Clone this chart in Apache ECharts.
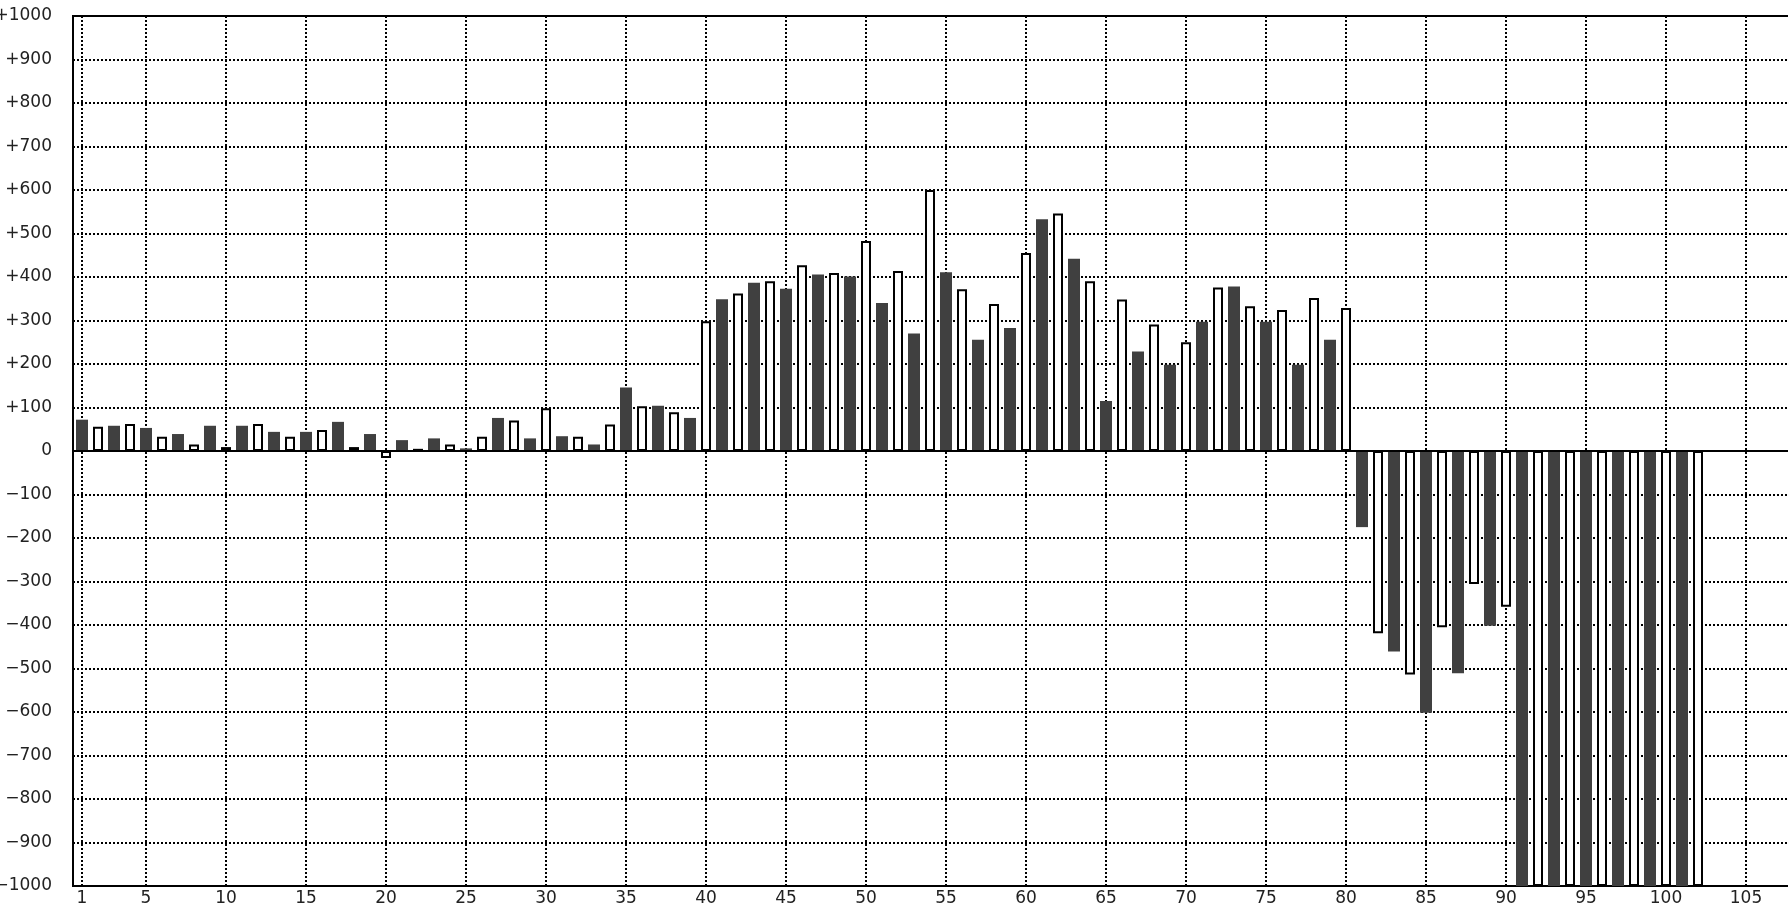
<!DOCTYPE html>
<html>
<head>
<meta charset="utf-8">
<script src="https://cdn.jsdelivr.net/npm/echarts@6/dist/echarts.min.js"></script>
<style>
  html, body { margin: 0; padding: 0; background: #fff; }
  #chart { width: 1788px; height: 906px; }
</style>
</head>
<body>
<div id="chart"></div>
<script>
// Bar values for positions 1..102 (odd positions drawn dark, even positions drawn white)
const values = [
  72, 56, 58, 62, 53, 33, 39, 15, 58, 9,
  58, 62, 44, 33, 44, 48, 67, 9, 39, -16,
  25, 5, 29, 15, 6, 33, 76, 70, 29, 98,
  34, 33, 15, 61, 146, 103, 104, 89, 76, 298,
  349, 362, 387, 390, 373, 427, 406, 409, 401, 483,
  340, 414, 270, 600, 411, 372, 256, 338, 283, 455,
  533, 546, 442, 390, 115, 348, 229, 291, 198, 250,
  297, 376, 378, 333, 297, 324, 198, 352, 256, 329,
  -175, -419, -461, -514, -602, -405, -511, -306, -402, -358,
  -1000, -1000, -1000, -1000, -1000, -1000, -1000, -1000, -1000, -1000,
  -1000, -1000
];
// X-axis tick labels
const xTicks = [1, 5, 10, 15, 20, 25, 30, 35, 40, 45, 50, 55, 60, 65, 70, 75, 80, 85, 90, 95, 100, 105];
// Y-axis range
const yMin = -1000, yMax = 1000, yStep = 100;

const darkData = [];
const lightData = [];
values.forEach((v, i) => {
  const pos = i + 1;
  if (pos % 2 === 1) darkData.push([pos, v]);
  else lightData.push([pos, v]);
});

const xMin = 0.4375, xMax = 107.75;
const font = 'DejaVu Sans';

const chart = echarts.init(document.getElementById('chart'), null, { renderer: 'canvas' });
chart.setOption({
  animation: false,
  backgroundColor: '#fff',
  grid: {
    left: 73, right: -2, top: 16, height: 870,
    outerBoundsMode: 'none', containLabel: false,
    show: true, borderColor: '#000', borderWidth: 2, backgroundColor: 'transparent'
  },
  xAxis: [{
    type: 'value', min: xMin, max: xMax,
    axisLine: { show: false, onZero: false },
    axisTick: { show: false, customValues: xTicks },
    axisLabel: {
      customValues: xTicks, margin: 4,
      fontFamily: font, fontSize: 17, color: '#222'
    },
    splitLine: { show: true, lineStyle: { color: '#000', width: 2, type: [2, 2] } }
  }, {
    type: 'value', min: xMin, max: xMax, show: false,
    axisLine: { show: false, onZero: false }, splitLine: { show: false }
  }],
  yAxis: {
    type: 'value', min: yMin, max: yMax, interval: yStep,
    axisLine: { show: false },
    axisTick: { show: false },
    axisLabel: {
      margin: 21, fontFamily: font, fontSize: 17, color: '#222',
      showMinLabel: true, showMaxLabel: true,
      formatter: v => v > 0 ? '+' + v : (v < 0 ? '\u2212' + Math.abs(v) : '0')
    },
    splitLine: { show: true, lineStyle: { color: '#000', width: 2, type: [2, 2] } }
  },
  series: [{
    name: 'odd', type: 'bar', xAxisIndex: 0, data: darkData,
    barWidth: 12, itemStyle: { color: '#404040' },
    markLine: {
      silent: true, symbol: 'none', label: { show: false },
      lineStyle: { color: '#000', width: 2, type: 'solid' },
      data: [{ yAxis: 0 }]
    }
  }, {
    name: 'even', type: 'bar', xAxisIndex: 1, data: lightData,
    barWidth: 10, itemStyle: { color: '#fff', borderColor: '#000', borderWidth: 2 }
  }]
});
</script>
</body>
</html>
